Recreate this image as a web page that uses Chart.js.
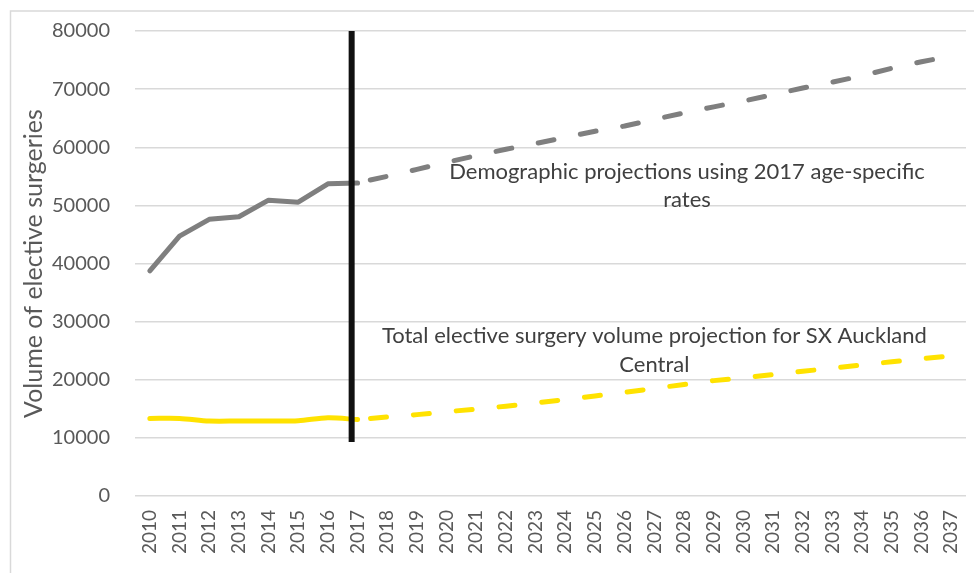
<!DOCTYPE html>
<html>
<head>
<meta charset="utf-8">
<script src="https://cdn.jsdelivr.net/npm/chart.js@4/dist/chart.umd.min.js"></script>
<style>
  html, body { margin: 0; padding: 0; background: #ffffff; }
  #wrap { width: 974px; height: 573px; position: relative; }
</style>
</head>
<body>
<div id="wrap"><canvas id="c" width="974" height="573"></canvas></div>
<script>
// ---- data ----
const years = [2010, 2011, 2012, 2013, 2014, 2015, 2016, 2017, 2018, 2019, 2020, 2021, 2022, 2023,
               2024, 2025, 2026, 2027, 2028, 2029, 2030, 2031, 2032, 2033, 2034, 2035, 2036, 2037];
const histYears = [2010, 2011, 2012, 2013, 2014, 2015, 2016, 2017];
const histDemographic = [38750, 44700, 47600, 48050, 50900, 50550, 53700, 53850];
const histVolume = [13350, 13350, 12900, 12900, 12900, 12950, 13450, 13150];
const projYears = [2017, 2018, 2019, 2020, 2021, 2022, 2023, 2024, 2025, 2026, 2027,
                   2028, 2029, 2030, 2031, 2032, 2033, 2034, 2035, 2036, 2037];
const projDemographic = [53900, 55000, 56200, 57400, 58550, 59650, 60650, 61700, 62750, 63650, 64800,
                         65900, 66950, 67950, 69050, 70200, 71200, 72300, 73600, 74700, 75700];
const projVolume = [13150, 13600, 14000, 14500, 14950, 15450, 16000, 16600, 17200, 17850, 18500,
                    19200, 19850, 20350, 20900, 21450, 22000, 22550, 23100, 23600, 24100];
const dividerYear = 2016.8;
const dividerRange = [9300, 80000];
const yTicks = [0, 10000, 20000, 30000, 40000, 50000, 60000, 70000, 80000];
const yAxisTitle = 'Volume of elective surgeries';
const noteDemographic = ['Demographic projections using 2017 age-specific', 'rates'];
const noteDemographicAt = { x: 2028.1, y: [55750, 50950] };
const noteVolume = ['Total elective surgery volume projection for SX Auckland', 'Central'];
const noteVolumeAt = { x: 2027.0, y: [27550, 22550] };

const pts = (xs, ys) => xs.map((x, i) => ({ x: x, y: ys[i] }));

const FONT = 'Lato, "Open Sans", "Liberation Sans", sans-serif';

const frame = {
  id: 'frame',
  beforeDraw(chart) {
    const ctx = chart.ctx;
    ctx.save();
    ctx.fillStyle = '#ffffff';
    ctx.fillRect(0, 0, chart.width, chart.height);
    ctx.strokeStyle = '#d9d9d9';
    ctx.lineWidth = 1.5;
    ctx.beginPath();
    ctx.moveTo(10.5, chart.height + 5);
    ctx.lineTo(10.5, 11);
    ctx.lineTo(chart.width + 5, 11);
    ctx.stroke();
    ctx.restore();
  }
};

const notes = {
  id: 'notes',
  afterDatasetsDraw(chart) {
    const ctx = chart.ctx, xs = chart.scales.x, ys = chart.scales.y;
    ctx.save();
    ctx.fillStyle = '#404040';
    ctx.font = '22px ' + FONT;
    ctx.textAlign = 'center';
    ctx.textBaseline = 'middle';
    [[noteDemographic, noteDemographicAt], [noteVolume, noteVolumeAt]].forEach(([lines, at]) => {
      lines.forEach((t, i) => {
        ctx.fillText(t, xs.getPixelForValue(at.x), ys.getPixelForValue(at.y[i]));
      });
    });
    ctx.restore();
  }
};

new Chart(document.getElementById('c'), {
  type: 'line',
  data: {
    datasets: [
      {
        label: 'divider',
        data: dividerRange.map(v => ({ x: dividerYear, y: v })),
        borderColor: '#111111',
        borderWidth: 6,
        pointRadius: 0
      },
      {
        label: 'Demographic (historical)',
        data: pts(histYears, histDemographic),
        borderColor: '#7f7f7f',
        borderWidth: 5,
        borderJoinStyle: 'round',
        borderCapStyle: 'round',
        pointRadius: 0,
        tension: 0
      },
      {
        label: 'Volume (historical)',
        data: pts(histYears, histVolume),
        borderColor: '#ffe200',
        borderWidth: 5,
        borderJoinStyle: 'round',
        borderCapStyle: 'round',
        pointRadius: 0,
        tension: 0.3
      },
      {
        label: 'Demographic projection',
        data: pts(projYears, projDemographic),
        borderColor: '#7f7f7f',
        borderWidth: 5,
        borderDash: [16, 27],
        borderDashOffset: 30,
        borderCapStyle: 'round',
        pointRadius: 0,
        tension: 0
      },
      {
        label: 'Volume projection',
        data: pts(projYears, projVolume),
        borderColor: '#ffe200',
        borderWidth: 5,
        borderDash: [16, 27],
        borderDashOffset: 30,
        borderCapStyle: 'round',
        pointRadius: 0,
        tension: 0
      }
    ]
  },
  options: {
    responsive: false,
    animation: false,
    events: [],
    layout: { padding: { left: 0, right: 8, top: 31, bottom: 0 } },
    plugins: { legend: { display: false }, tooltip: { enabled: false } },
    scales: {
      x: {
        type: 'linear',
        min: 2009.5,
        max: 2037.5,
        afterBuildTicks(scale) { scale.ticks = years.map(v => ({ value: v })); },
        afterFit(scale) { scale.height = 77; scale.paddingLeft = 0; scale.paddingRight = 0; },
        grid: { display: false, drawTicks: false },
        border: { display: false },
        ticks: {
          autoSkip: false,
          minRotation: 90,
          maxRotation: 90,
          padding: 14,
          color: '#595959',
          font: { family: FONT, size: 19 },
          callback: v => String(v)
        }
      },
      y: {
        min: 0,
        max: 80000,
        afterBuildTicks(scale) { scale.ticks = yTicks.map(v => ({ value: v })); },
        afterFit(scale) { scale.width = 135; scale.paddingTop = 0; scale.paddingBottom = 0; },
        grid: { color: '#d9d9d9', lineWidth: 1.5, drawTicks: false },
        border: { display: false },
        ticks: {
          padding: 25,
          color: '#595959',
          font: { family: FONT, size: 20 },
          callback: v => String(v)
        },
        title: {
          display: true,
          text: yAxisTitle,
          color: '#595959',
          font: { family: FONT, size: 25 },
          padding: { top: 19, bottom: 0 }
        }
      }
    }
  },
  plugins: [frame, notes]
});
</script>
</body>
</html>
